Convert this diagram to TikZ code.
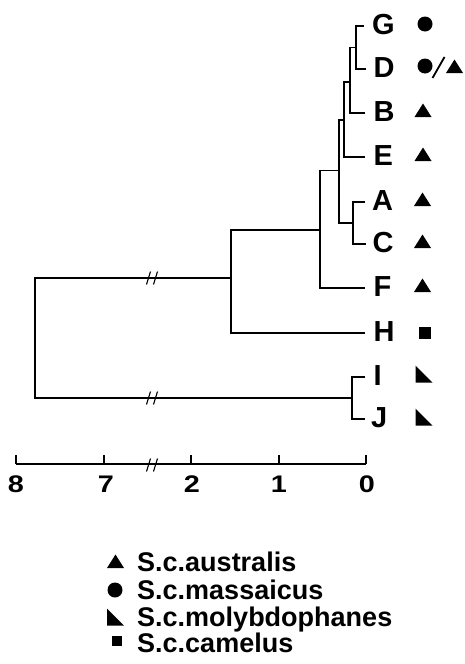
\documentclass[tikz,border=0pt]{standalone}
\usepackage{fontspec}
\setmainfont{Liberation Sans}
\tikzset{
  leaflab/.style={anchor=base west,inner sep=0pt,font=\fontsize{29}{29}\selectfont\bfseries},
  digitlab/.style={anchor=base,inner sep=0pt,font=\fontsize{24}{24}\selectfont\bfseries},
  legtext/.style={anchor=base west,inner sep=0pt,font=\fontsize{27}{27}\selectfont\bfseries},
  branch/.style={line width=1.1pt},
  tri/.pic={\fill (-8.5,6.5) -- (8.5,6.5) -- (0,-7) -- cycle;},
  dot/.pic={\fill (0,0) circle (7.5);},
  sq/.pic={\fill (-6,-6) rectangle (6,6);},
  rtri/.pic={\fill (-8.5,-8.5) -- (-8.5,8.5) -- (8.5,8.5) -- cycle;},
  brk/.pic={\draw[line width=1.1pt] (-5.5,6.5) -- (-1.5,-6.5) (1.5,6.5) -- (5.5,-6.5);}
}
\newcommand{\wdig}[1]{\scalebox{1.2}[1]{#1}}
\begin{document}
\begin{tikzpicture}[x=1pt,y=-1pt]
\useasboundingbox (0,0) rectangle (465,664);
% leaf line ends
\coordinate (eG) at (364,26);
\coordinate (eD) at (366,69);
\coordinate (eB) at (365,113);
\coordinate (eE) at (365,157);
\coordinate (eA) at (365,202);
\coordinate (eC) at (366,244);
\coordinate (eF) at (365,288);
\coordinate (eH) at (365,333);
\coordinate (eI) at (365,377);
\coordinate (eJ) at (365,419);
% internal nodes
\coordinate (n1) at (356,47.5);
\coordinate (n2) at (350,82);
\coordinate (n3) at (344,120);
\coordinate (n4) at (353,223);
\coordinate (n5) at (339,170.5);
\coordinate (n6) at (320,230);
\coordinate (n7) at (231,278);
\coordinate (n8) at (352,398);
\coordinate (root) at (35,338);
% branches
\draw[branch] (eG) -| (n1) |- (eD);
\draw[branch] (n1) -| (n2) |- (eB);
\draw[branch] (n2) -| (n3) |- (eE);
\draw[branch] (eA) -| (n4) |- (eC);
\draw[branch] (n3) -| (n5) |- (n4);
\draw[branch] (n5) -| (n6) |- (eF);
\draw[branch] (n6) -| (n7) |- (eH);
\draw[branch] (eI) -| (n8) |- (eJ);
\draw[branch] (n7) -| (root) |- (n8);
\pic at (152,278) {brk};
\pic at (152,398) {brk};
% leaf labels
\node[leaflab] (lG) at (372,34.5) {G};
\node[leaflab] (lD) at (373.5,77.5) {D};
\node[leaflab] (lB) at (373.5,121.5) {B};
\node[leaflab] (lE) at (373.5,165.5) {E};
\node[leaflab] (lA) at (372,210.5) {A};
\node[leaflab] (lC) at (372.5,252.5) {C};
\node[leaflab] (lF) at (373.5,296.5) {F};
\node[leaflab] (lH) at (373.5,341.5) {H};
\node[leaflab] (lI) at (373.5,385.5) {I};
\node[leaflab] (lJ) at (371,427.5) {J};
% symbols
\pic at (425,24) {dot};
\pic at (425,66) {dot};
\draw[line width=1.8pt] (432.5,78) -- (444.5,57);
\pic at (454.5,66.5) {tri};
\pic at (423,110.5) {tri};
\pic at (423,154.5) {tri};
\pic at (422.5,199.5) {tri};
\pic at (422.5,241.5) {tri};
\pic at (422.5,285.5) {tri};
\pic at (425,333) {sq};
\pic at (424,374) {rtri};
\pic at (424,417) {rtri};
% axis
\coordinate (a8) at (16,464);
\coordinate (a7) at (104,464);
\coordinate (a2) at (191,464);
\coordinate (a1) at (279,464);
\coordinate (a0) at (366,464);
\draw[branch] (a8) -- (a0);
\foreach \t in {a8,a7,a2,a1,a0} \draw[branch] (\t) -- ++(0,-9);
\pic at (152,465) {brk};
\node[digitlab] (d8) at (16,492) {\wdig{8}};
\node[digitlab] (d7) at (106,492) {\wdig{7}};
\node[digitlab] (d2) at (192,492) {\wdig{2}};
\node[digitlab] (d1) at (279,492) {\wdig{1}};
\node[digitlab] (d0) at (367,492) {\wdig{0}};
% legend
\pic at (115.5,561.5) {tri};
\pic at (115,590) {dot};
\pic at (115.5,617) {rtri};
\pic[scale=0.9] at (117,641) {sq};
\node[legtext] (L1) at (137,571) {S.c.australis};
\node[legtext] (L2) at (137,599.5) {S.c.massaicus};
\node[legtext] (L3) at (137,626) {S.c.molybdophanes};
\node[legtext] (L4) at (137,652) {S.c.camelus};
\end{tikzpicture}
\end{document}
